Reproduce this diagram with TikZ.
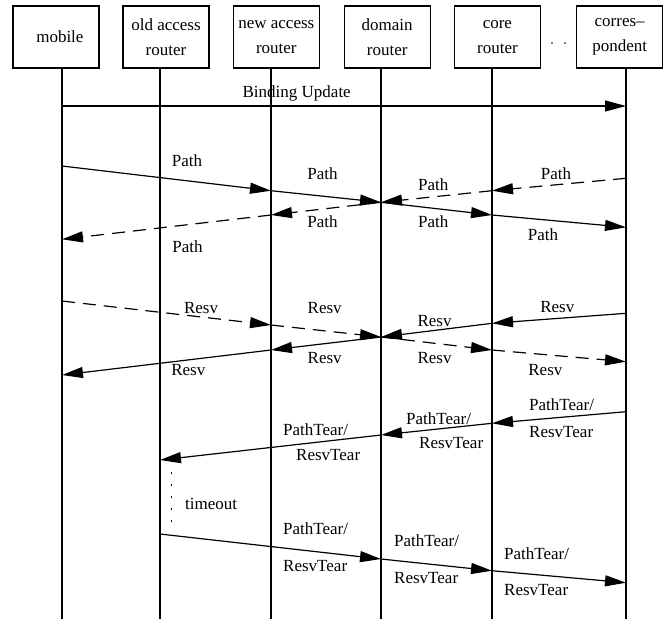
\documentclass[tikz,border=0pt]{standalone}
\usepackage{fontspec}
\setmainfont{Liberation Serif}
\usetikzlibrary{arrows.meta}
\begin{document}
\begin{tikzpicture}[x=1pt,y=-1pt,
  every node/.style={font=\fontsize{17}{25}\selectfont},
  box/.style={draw, line width=1.2pt, minimum width=86pt, minimum height=62pt, inner sep=0pt, align=center},
  life/.style={line width=1.2pt},
  msg/.style={line width=1.2pt, -{Triangle[length=21pt,width=11pt]}},
  dmsg/.style={msg, dash pattern=on 13pt off 8pt},
  lbl/.style={inner sep=0pt},
  dots/.style={line width=1.4pt, dash pattern=on 1.4pt off 10.6pt},
]
\useasboundingbox (0,0) rectangle (668,619);

% participants
\node[box] (mobile) at (55.9,37) {\raisebox{-3pt}{\hspace*{8pt}mobile}};
\node[box] (old)    at (166,37)  {old access\\router};
\node[box] (new)    at (276.3,37) {new access\\router};
\node[box] (domain) at (387.2,37) {domain\\router};
\node[box] (core)   at (497.4,37) {core\\router};
\node[box] (corr)   at (619.7,37) {corres\textendash\\pondent};
\fill (552,43) circle (0.9) (565,43) circle (0.9);

% lifelines
\foreach \n/\x in {A/62, B/160, C/271, D/381, E/492, F/626}{
  \coordinate (\n0) at (\x,68);
  \coordinate (\n1) at (\x,619);
  \draw[life] (\n0) -- (\n1);
}

% message end points on the lifelines
\foreach \n/\x/\y in {
  bu1/62/106, bu2/626/106,
  pf1/62/166, pf2/271/190.7, pf3/381/202.3, pf4/492/215, pf5/626/227.3,
  pb1/626/178.3, pb2/492/190.7, pb4/271/215, pb5/62/239.3,
  rf1/62/301, rf2/271/325, rf3/381/337, rf4/492/350, rf5/626/361.7,
  rb1/626/313.3, rb2/492/323.3, rb4/271/350, rb5/62/375,
  tb1/626/411.7, tb2/492/423.3, tb3/381/435, tb4/160/460,
  tf1/160/534, tf2/381/559, tf3/492/570.7, tf4/626/582.7,
  to1/171.5/472.4, to2/171.5/522}{
  \coordinate (\n) at (\x,\y);
}

% binding update
\draw[msg] (bu1) -- (bu2);
\node[lbl] (lbu) at (296.7,93.3) {Binding Update};

% Path messages
\draw[msg] (pf1) -- (pf2);
\draw[msg] (pf2) -- (pf3);
\draw[msg] (pf3) -- (pf4);
\draw[msg] (pf4) -- (pf5);
\draw[dmsg] (pb1) -- (pb2);
\draw[dmsg] (pb2) -- (pf3);
\draw[dmsg] (pf3) -- (pb4);
\draw[dmsg] (pb4) -- (pb5);
\node[lbl] (lp1) at (187,160.7) {Path};
\node[lbl] (lp2) at (322.5,173.3) {Path};
\node[lbl] (lp3) at (433.3,185) {Path};
\node[lbl] (lp4) at (556,173.3) {Path};
\node[lbl] (lp5) at (322.5,221.7) {Path};
\node[lbl] (lp6) at (433.3,221.7) {Path};
\node[lbl] (lp7) at (543,234.3) {Path};
\node[lbl] (lp8) at (187.5,246.7) {Path};

% Resv messages
\draw[dmsg] (rf1) -- (rf2);
\draw[dmsg] (rf2) -- (rf3);
\draw[dmsg] (rf3) -- (rf4);
\draw[dmsg] (rf4) -- (rf5);
\draw[msg] (rb1) -- (rb2);
\draw[msg] (rb2) -- (rf3);
\draw[msg] (rf3) -- (rb4);
\draw[msg] (rb4) -- (rb5);
\node[lbl] (lr1) at (201,308.3) {Resv};
\node[lbl] (lr2) at (324.7,308.3) {Resv};
\node[lbl] (lr3) at (434.6,321) {Resv};
\node[lbl] (lr4) at (557.3,306.7) {Resv};
\node[lbl] (lr5) at (324.7,357.7) {Resv};
\node[lbl] (lr6) at (434.6,357.7) {Resv};
\node[lbl] (lr7) at (545.4,370) {Resv};
\node[lbl] (lr8) at (188.3,370) {Resv};

% teardown towards the old access router
\draw[msg] (tb1) -- (tb2);
\draw[msg] (tb2) -- (tb3);
\draw[msg] (tb3) -- (tb4);
\node[lbl, anchor=west] (lt1a) at (529,405)   {PathTear/};
\node[lbl, anchor=west] (lt1b) at (529,431.7) {ResvTear};
\node[lbl, anchor=west] (lt2a) at (406,418.3) {PathTear/};
\node[lbl, anchor=west] (lt2b) at (419,443.3) {ResvTear};
\node[lbl, anchor=west] (lt3a) at (283,430)   {PathTear/};
\node[lbl, anchor=west] (lt3b) at (296,455)   {ResvTear};

% timeout
\draw[dots] (to1) -- (to2);
\node[lbl, anchor=west] (lto) at (185,504) {timeout};

% teardown from the old access router
\draw[msg] (tf1) -- (tf2);
\draw[msg] (tf2) -- (tf3);
\draw[msg] (tf3) -- (tf4);
\node[lbl, anchor=west] (lu1a) at (283,528.3) {PathTear/};
\node[lbl, anchor=west] (lu1b) at (283,566)   {ResvTear};
\node[lbl, anchor=west] (lu2a) at (394,541)   {PathTear/};
\node[lbl, anchor=west] (lu2b) at (394,578)   {ResvTear};
\node[lbl, anchor=west] (lu3a) at (504,553.3) {PathTear/};
\node[lbl, anchor=west] (lu3b) at (504,590)   {ResvTear};
\end{tikzpicture}
\end{document}
